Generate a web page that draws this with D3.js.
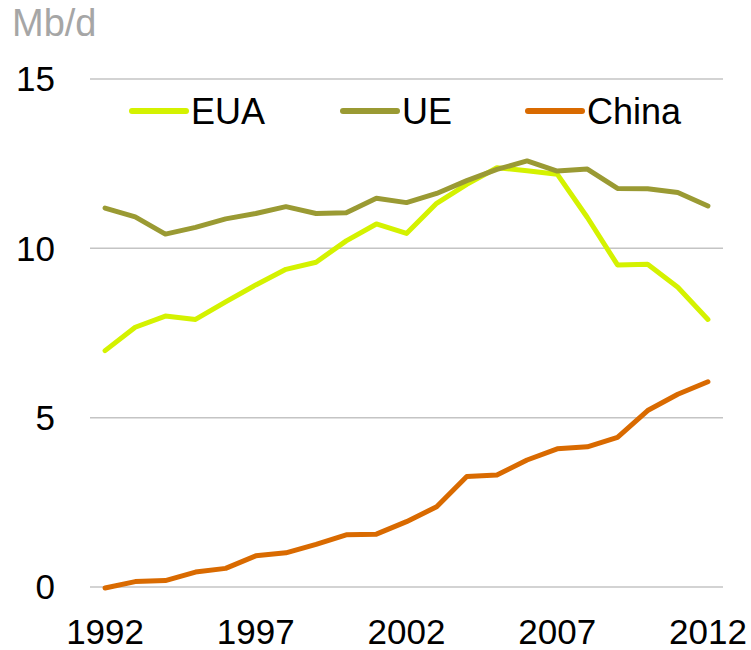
<!DOCTYPE html>
<html>
<head>
<meta charset="utf-8">
<script src="https://cdn.jsdelivr.net/npm/d3@7"></script>
<style>
  html, body { margin: 0; padding: 0; background: #fff; }
  svg { display: block; font-family: "Liberation Sans", Arial, sans-serif; }
</style>
</head>
<body>
<svg id="chart" width="751" height="650"></svg>
<script>
const years = d3.range(1992, 2013);
const eua   = [6.98, 7.67, 8.00, 7.90, 8.42, 8.92, 9.38, 9.59, 10.22, 10.72, 10.44, 11.33, 11.89, 12.38, 12.29, 12.19, 10.91, 9.51, 9.53, 8.85, 7.90];
const ue    = [11.19, 10.93, 10.42, 10.62, 10.87, 11.03, 11.23, 11.03, 11.05, 11.48, 11.35, 11.62, 12.00, 12.33, 12.58, 12.28, 12.34, 11.77, 11.76, 11.65, 11.25];
const china = [-0.03, 0.16, 0.19, 0.44, 0.55, 0.92, 1.01, 1.26, 1.54, 1.56, 1.93, 2.37, 3.26, 3.31, 3.75, 4.08, 4.14, 4.42, 5.21, 5.69, 6.06];
const seriesNames = ["EUA", "UE", "China"];
const seriesColors = ["#d4f200", "#9a9a33", "#d96a00"];
const yTicks = [0, 5, 10, 15];
const xTickLabels = [1992, 1997, 2002, 2007, 2012];
const unitLabel = "Mb/d";

const svg = d3.select("#chart");
const x = d3.scalePoint().domain(years).range([90, 723]).padding(0.5);
const y = d3.scaleLinear().domain([0, 15]).range([587, 79]);

// gridlines
svg.append("g").selectAll("line").data(yTicks).join("line")
  .attr("x1", 90).attr("x2", 723)
  .attr("y1", d => y(d)).attr("y2", d => y(d))
  .attr("stroke", "#c4c4c4").attr("stroke-width", 1.5);

// y labels
svg.append("g").selectAll("text").data(yTicks).join("text")
  .attr("x", 55).attr("y", d => y(d)).attr("dy", "0.35em")
  .attr("text-anchor", "end").attr("font-size", 35).attr("fill", "#000")
  .text(d => d);

// x labels
svg.append("g").selectAll("text").data(xTickLabels).join("text")
  .attr("x", d => x(d)).attr("y", 644)
  .attr("text-anchor", "middle").attr("font-size", 35).attr("fill", "#000")
  .text(d => d);

// unit label
svg.append("text").attr("x", 12).attr("y", 36)
  .attr("font-size", 38).attr("fill", "#a6a6a6").text(unitLabel);

// lines
const data = [eua, ue, china];
const line = d3.line().x((d, i) => x(years[i])).y(d => y(d));
svg.append("g").selectAll("path").data(data).join("path")
  .attr("d", line)
  .attr("fill", "none")
  .attr("stroke", (d, i) => seriesColors[i])
  .attr("stroke-width", 5)
  .attr("stroke-linejoin", "round")
  .attr("stroke-linecap", "round");

// legend
const legendX = [132, 343, 528];
const lg = svg.append("g").selectAll("g").data(seriesNames).join("g")
  .attr("transform", (d, i) => `translate(${legendX[i]},111)`);
lg.append("line").attr("x1", 0).attr("x2", 54).attr("y1", 0).attr("y2", 0)
  .attr("stroke", (d, i) => seriesColors[i]).attr("stroke-width", 6)
  .attr("stroke-linecap", "round");
lg.append("text").attr("x", 59).attr("y", 0).attr("dy", "0.36em")
  .attr("font-size", 36).attr("fill", "#000").text(d => d);
</script>
</body>
</html>
